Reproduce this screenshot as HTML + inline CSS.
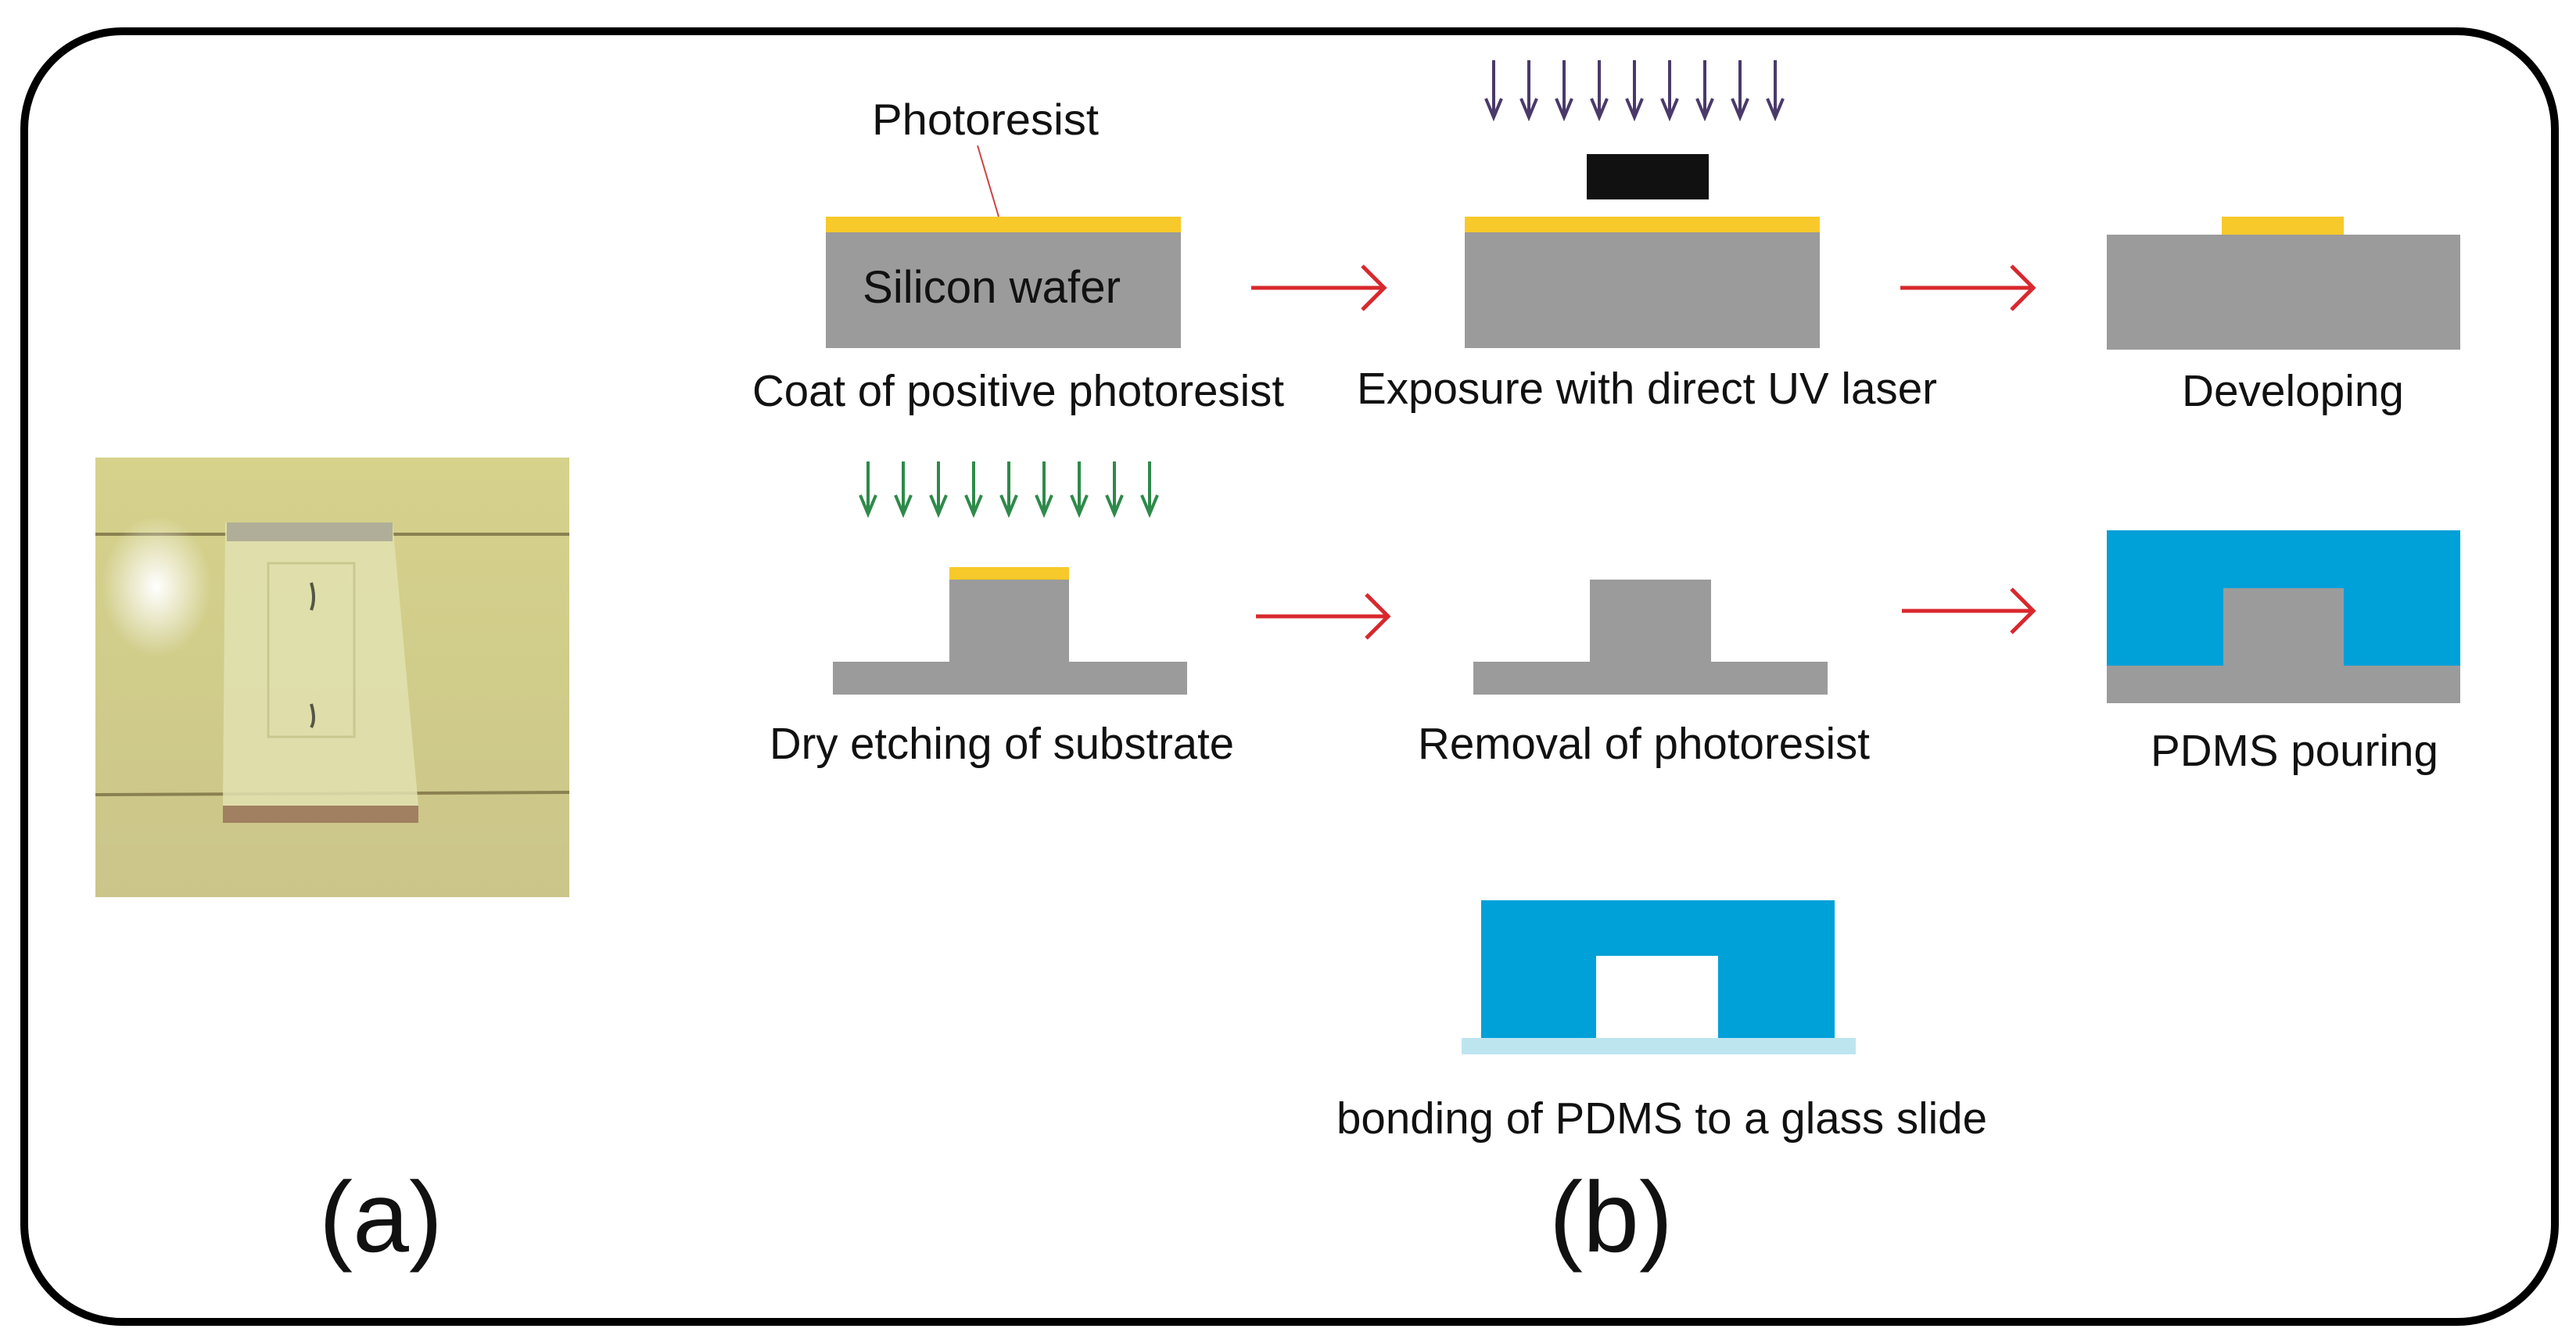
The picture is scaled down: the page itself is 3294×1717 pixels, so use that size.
<!DOCTYPE html>
<html><head><meta charset="utf-8"><style>
html,body{margin:0;padding:0;background:#fff;}
svg{display:block;}
text{font-family:"Liberation Sans",Arial,sans-serif;fill:#111;}
</style></head><body>
<svg width="3294" height="1717" viewBox="0 0 3294 1717" xmlns="http://www.w3.org/2000/svg">
<defs>
<linearGradient id="ph" x1="0" y1="0" x2="0" y2="1">
<stop offset="0" stop-color="#d6d28c"/><stop offset="0.5" stop-color="#d0cc8a"/><stop offset="1" stop-color="#cbc58a"/>
</linearGradient>
<radialGradient id="gl" cx="0.5" cy="0.5" r="0.5">
<stop offset="0" stop-color="#ffffff"/><stop offset="1" stop-color="#ffffff" stop-opacity="0"/>
</radialGradient>
</defs>
<rect width="3294" height="1717" fill="#fff"/>
<rect x="31" y="40" width="3236" height="1650" rx="125" ry="125" fill="none" stroke="#000" stroke-width="10"/>

<!-- photo -->
<rect x="122" y="585" width="606" height="562" fill="url(#ph)"/>
<line x1="122" y1="683" x2="728" y2="683" stroke="#8a8050" stroke-width="4"/>
<line x1="122" y1="1016" x2="728" y2="1013" stroke="#8a8050" stroke-width="4"/>
<polygon points="288,668 502,668 535,1030 285,1030" fill="#e2e2b0" opacity="0.85"/>
<rect x="290" y="668" width="212" height="24" fill="#b0ae98"/>
<rect x="285" y="1030" width="250" height="22" fill="#a08060"/>
<rect x="343" y="720" width="110" height="222" fill="none" stroke="#c8c890" stroke-width="3"/>
<path d="M398 745 q6 20 0 35" stroke="#554" stroke-width="4" fill="none"/>
<path d="M398 900 q6 20 0 30" stroke="#554" stroke-width="4" fill="none"/>
<ellipse cx="200" cy="750" rx="70" ry="90" fill="url(#gl)"/>

<!-- Row 1 -->
<text x="1260" y="172" font-size="56" text-anchor="middle" textLength="290" lengthAdjust="spacingAndGlyphs">Photoresist</text>
<line x1="1250" y1="186" x2="1277" y2="277" stroke="#c44" stroke-width="2"/>
<rect x="1056" y="277" width="454" height="20" fill="#f7c92a"/>
<rect x="1056" y="297" width="454" height="148" fill="#9b9b9b"/>
<text x="1268" y="387" font-size="58" text-anchor="middle" textLength="330" lengthAdjust="spacingAndGlyphs">Silicon wafer</text>

<g stroke="#d8282e" stroke-width="5" fill="none">
<line x1="1600" y1="368" x2="1768" y2="368"/><path d="M1742 340 L1770 368 L1742 396"/>
<line x1="2430" y1="368" x2="2598" y2="368"/><path d="M2572 340 L2600 368 L2572 396"/>
<line x1="1606" y1="788" x2="1773" y2="788"/><path d="M1747 760 L1775 788 L1747 816"/>
<line x1="2432" y1="781" x2="2598" y2="781"/><path d="M2572 753 L2600 781 L2572 809"/>
</g>

<g stroke="#4a3a6a" stroke-width="4" fill="none">
<g id="uv">
<line x1="1910" y1="77" x2="1910" y2="148"/><path d="M1900 126 L1910 150 L1920 126"/>
</g>
<use href="#uv" x="45"/><use href="#uv" x="90"/><use href="#uv" x="135"/><use href="#uv" x="180"/>
<use href="#uv" x="225"/><use href="#uv" x="270"/><use href="#uv" x="315"/><use href="#uv" x="360"/>
</g>
<rect x="2029" y="197" width="156" height="58" fill="#111"/>
<rect x="1873" y="277" width="454" height="20" fill="#f7c92a"/>
<rect x="1873" y="297" width="454" height="148" fill="#9b9b9b"/>

<rect x="2841" y="277" width="156" height="23" fill="#f7c92a"/>
<rect x="2694" y="300" width="452" height="147" fill="#9b9b9b"/>

<text x="1302" y="519" font-size="57" text-anchor="middle" textLength="680" lengthAdjust="spacingAndGlyphs">Coat of positive photoresist</text>
<text x="2106" y="516" font-size="57" text-anchor="middle" textLength="742" lengthAdjust="spacingAndGlyphs">Exposure with direct UV laser</text>
<text x="2932" y="519" font-size="57" text-anchor="middle" textLength="284" lengthAdjust="spacingAndGlyphs">Developing</text>

<!-- Row 2 -->
<g stroke="#2e8a4a" stroke-width="4" fill="none">
<g id="gr">
<line x1="1110" y1="590" x2="1110" y2="655"/><path d="M1100 633 L1110 657 L1120 633"/>
</g>
<use href="#gr" x="45"/><use href="#gr" x="90"/><use href="#gr" x="135"/><use href="#gr" x="180"/>
<use href="#gr" x="225"/><use href="#gr" x="270"/><use href="#gr" x="315"/><use href="#gr" x="360"/>
</g>
<rect x="1214" y="725" width="153" height="16" fill="#f7c92a"/>
<rect x="1214" y="741" width="153" height="106" fill="#9b9b9b"/>
<rect x="1065" y="846" width="453" height="42" fill="#9b9b9b"/>

<rect x="2033" y="741" width="155" height="106" fill="#9b9b9b"/>
<rect x="1884" y="846" width="453" height="42" fill="#9b9b9b"/>

<rect x="2694" y="678" width="452" height="173" fill="#00a0d8"/>
<rect x="2843" y="752" width="154" height="100" fill="#9b9b9b"/>
<rect x="2694" y="851" width="452" height="48" fill="#9b9b9b"/>

<text x="1281" y="970" font-size="57" text-anchor="middle" textLength="594" lengthAdjust="spacingAndGlyphs">Dry etching of substrate</text>
<text x="2102" y="970" font-size="57" text-anchor="middle" textLength="578" lengthAdjust="spacingAndGlyphs">Removal of photoresist</text>
<text x="2934" y="979" font-size="57" text-anchor="middle" textLength="368" lengthAdjust="spacingAndGlyphs">PDMS pouring</text>

<!-- Bonding -->
<rect x="1894" y="1151" width="452" height="176" fill="#00a0d8"/>
<rect x="2041" y="1222" width="156" height="106" fill="#fff"/>
<rect x="1869" y="1327" width="504" height="21" fill="#bde5f0"/>
<text x="2125" y="1449" font-size="57" text-anchor="middle" textLength="832" lengthAdjust="spacingAndGlyphs">bonding of PDMS to a glass slide</text>

<text x="487" y="1600" font-size="128" text-anchor="middle" textLength="158" lengthAdjust="spacingAndGlyphs">(a)</text>
<text x="2060" y="1600" font-size="128" text-anchor="middle" textLength="158" lengthAdjust="spacingAndGlyphs">(b)</text>
</svg>
</body></html>
